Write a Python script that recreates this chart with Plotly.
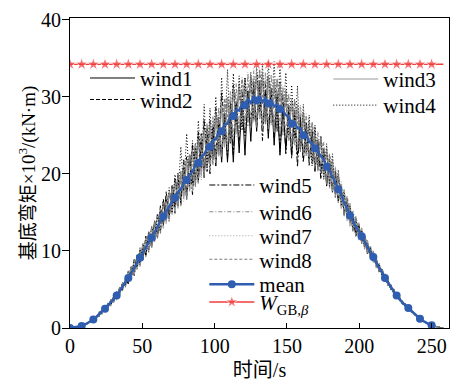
import plotly.graph_objects as go

# sampling interval of the records (s)
dt = 250 / 124
n_pts = 129
time = [round(i * dt, 3) for i in range(n_pts)]

wind1 = [0.0, 0.05, 0.15, 0.15, 0.35, 0.5, 0.55, 0.95, 1.0, 1.55,
         1.6, 2.3, 2.2, 3.2, 3.1, 4.15, 3.9, 5.25, 4.95, 6.3,
         5.9, 7.95, 7.3, 9.45, 8.4, 10.7, 9.4, 12.25, 10.9, 13.75,
         11.9, 15.35, 13.5, 17.0, 14.2, 18.4, 15.6, 19.8, 16.2, 20.8,
         17.2, 22.4, 18.8, 23.9, 18.9, 24.2, 19.5, 25.8, 21.5, 25.8,
         21.0, 26.4, 21.5, 27.9, 21.5, 27.9, 21.5, 29.3, 22.7, 29.6,
         22.4, 30.7, 24.2, 31.5, 25.5, 32.1, 25.8, 30.8, 24.6, 31.1,
         23.7, 30.0, 22.4, 28.7, 23.1, 28.4, 22.5, 28.2, 22.4, 26.9,
         22.0, 26.6, 21.6, 25.5, 20.3, 24.1, 20.3, 23.3, 18.4, 21.4,
         17.6, 20.1, 16.5, 18.3, 14.7, 16.7, 13.6, 14.7, 11.9, 13.5,
         11.1, 11.9, 9.6, 10.5, 8.6, 9.0, 7.3, 7.6, 6.0, 6.2,
         5.0, 5.05, 3.9, 3.95, 3.1, 3.15, 2.45, 2.35, 1.75, 1.6,
         1.1, 1.05, 0.65, 0.55, 0.3, 0.27, 0.12, 0.05, 0.0]

wind2 = [0.0, 0.1, 0.05, 0.3, 0.25, 0.5, 0.65, 0.75, 1.25, 1.3,
         2.1, 1.9, 2.9, 2.6, 3.6, 3.35, 4.7, 4.45, 5.95, 5.4,
         7.4, 6.55, 9.0, 7.65, 10.1, 8.9, 11.9, 10.05, 13.1, 11.25,
         14.9, 12.65, 16.7, 13.7, 17.5, 15.4, 19.4, 15.8, 20.0, 17.3,
         22.2, 17.9, 23.8, 18.6, 25.4, 20.2, 27.0, 20.3, 27.0, 21.8,
         28.5, 22.4, 30.5, 23.9, 30.0, 23.9, 31.5, 26.3, 31.2, 26.1,
         32.4, 27.2, 32.2, 27.0, 33.0, 28.1, 32.3, 27.3, 32.6, 26.6,
         31.7, 25.5, 31.9, 25.7, 30.1, 24.4, 29.5, 24.7, 28.4, 23.4,
         27.5, 23.1, 26.1, 21.5, 25.3, 21.4, 24.8, 19.8, 22.7, 18.9,
         21.1, 17.4, 19.4, 16.1, 17.4, 14.5, 15.6, 12.9, 14.0, 11.8,
         12.6, 10.5, 11.1, 9.3, 9.7, 8.0, 8.2, 6.8, 6.9, 5.6,
         5.6, 4.45, 4.45, 3.55, 3.5, 2.75, 2.75, 2.05, 1.95, 1.4,
         1.3, 0.85, 0.75, 0.45, 0.4, 0.19, 0.14, 0.05, 0.0]

wind3 = [0.0, 0.08, 0.15, 0.15, 0.38, 0.35, 0.7, 0.75, 1.22, 1.3,
         2.05, 1.85, 2.85, 2.6, 3.7, 3.4, 4.65, 4.35, 5.85, 5.45,
         7.3, 6.45, 8.8, 7.55, 10.3, 8.8, 11.7, 9.95, 13.1, 11.25,
         14.7, 12.45, 16.3, 13.7, 17.7, 14.7, 19.1, 15.8, 20.4, 16.8,
         21.8, 17.7, 23.1, 18.7, 24.4, 19.7, 25.7, 20.7, 26.8, 21.5,
         27.9, 22.6, 29.0, 23.4, 29.9, 24.5, 31.1, 25.3, 31.7, 26.0,
         32.3, 26.7, 32.7, 26.8, 33.1, 27.1, 33.1, 26.5, 32.7, 26.5,
         32.2, 25.8, 31.8, 25.2, 30.9, 24.3, 29.7, 23.7, 29.0, 23.0,
         28.0, 22.3, 27.0, 21.3, 26.1, 20.3, 24.9, 19.3, 23.3, 18.1,
         21.8, 16.9, 20.0, 15.5, 18.0, 13.9, 16.2, 12.5, 14.5, 11.4,
         13.0, 10.2, 11.4, 9.1, 10.0, 7.8, 8.4, 6.7, 7.0, 5.5,
         5.65, 4.45, 4.5, 3.5, 3.5, 2.75, 2.75, 2.08, 1.95, 1.42,
         1.28, 0.88, 0.75, 0.46, 0.38, 0.2, 0.13, 0.05, 0.0]

wind4 = [0.0, 0.0, 0.15, 0.15, 0.4, 0.3, 0.7, 0.8, 1.2, 1.25,
         2.0, 1.8, 2.8, 2.7, 3.7, 3.45, 4.5, 4.35, 5.85, 5.6,
         7.2, 6.35, 8.8, 7.85, 10.4, 9.0, 11.4, 9.85, 13.2, 11.55,
         14.6, 12.35, 16.5, 14.2, 18.2, 14.9, 19.9, 16.6, 23.5, 17.8,
         25.2, 18.4, 24.3, 19.1, 26.9, 20.7, 29.0, 20.8, 28.5, 22.3,
         30.0, 22.9, 32.5, 24.4, 33.5, 24.4, 33.0, 26.3, 32.7, 25.6,
         32.4, 27.2, 33.2, 27.0, 34.0, 28.1, 34.3, 26.8, 34.6, 27.6,
         34.7, 26.0, 34.4, 26.2, 33.1, 24.9, 31.5, 24.7, 31.4, 22.9,
         29.0, 22.6, 27.6, 21.0, 26.3, 20.9, 24.8, 19.3, 23.9, 18.4,
         22.6, 17.4, 20.5, 15.8, 17.7, 14.3, 15.8, 12.9, 14.1, 11.8,
         12.7, 10.6, 11.1, 9.4, 9.8, 8.0, 8.3, 6.8, 6.9, 5.6,
         5.6, 4.45, 4.5, 3.55, 3.5, 2.75, 2.75, 2.1, 2.0, 1.4,
         1.3, 0.85, 0.8, 0.45, 0.4, 0.2, 0.15, 0.05, 0.0]

wind5 = [0.0, 0.1, 0.05, 0.25, 0.2, 0.45, 0.5, 0.95, 1.0, 1.5,
         1.5, 2.3, 2.3, 3.2, 2.9, 4.05, 3.8, 5.05, 4.85, 6.4,
         5.7, 7.85, 6.8, 9.25, 8.2, 11.0, 9.4, 12.55, 10.5, 13.85,
         11.6, 15.85, 13.3, 17.7, 14.2, 18.6, 14.9, 20.1, 16.0, 21.8,
         16.7, 22.4, 17.3, 23.1, 19.4, 25.2, 20.0, 25.3, 20.0, 26.8,
         22.5, 27.4, 22.5, 27.9, 22.0, 29.4, 22.5, 29.3, 24.2, 30.6,
         24.9, 30.7, 26.2, 32.0, 26.0, 31.6, 24.3, 31.8, 25.6, 30.6,
         24.7, 30.5, 22.9, 30.2, 22.6, 28.9, 22.0, 27.7, 20.9, 27.4,
         21.5, 26.1, 21.1, 25.5, 20.8, 24.4, 19.3, 22.8, 18.9, 21.9,
         18.1, 20.4, 16.5, 18.5, 15.0, 16.5, 13.6, 14.8, 12.1, 13.4,
         11.2, 12.0, 9.9, 10.4, 8.6, 9.0, 7.3, 7.6, 6.2, 6.3,
         5.0, 5.05, 4.0, 4.0, 3.1, 3.1, 2.45, 2.35, 1.75, 1.6,
         1.1, 1.0, 0.65, 0.55, 0.3, 0.25, 0.1, 0.05, 0.0]

wind6 = [0.0, 0.02, 0.06, 0.26, 0.24, 0.47, 0.52, 0.95, 1.0, 1.52,
         1.55, 2.4, 2.2, 3.25, 2.9, 4.15, 3.75, 5.25, 4.85, 6.45,
         5.8, 7.95, 6.9, 9.45, 8.0, 11.0, 9.2, 12.35, 10.4, 13.95,
         11.6, 15.55, 12.9, 17.1, 13.9, 18.4, 14.9, 19.8, 15.8, 21.2,
         16.8, 22.5, 17.7, 23.8, 18.7, 25.1, 19.6, 26.3, 20.5, 27.4,
         21.4, 28.6, 22.3, 29.7, 23.2, 30.7, 24.2, 31.7, 24.9, 32.5,
         25.7, 33.0, 25.9, 33.4, 26.1, 33.4, 26.0, 33.0, 25.8, 32.9,
         25.4, 32.2, 25.3, 31.3, 24.6, 30.4, 23.5, 29.6, 23.0, 28.7,
         22.2, 27.8, 21.5, 26.6, 20.8, 25.3, 20.0, 24.1, 18.7, 22.5,
         17.6, 20.8, 16.2, 19.0, 14.6, 17.0, 13.2, 15.2, 11.9, 13.7,
         10.9, 12.1, 9.7, 10.6, 8.5, 9.1, 7.3, 7.7, 6.1, 6.3,
         5.0, 5.05, 3.95, 4.0, 3.1, 3.15, 2.45, 2.32, 1.75, 1.58,
         1.12, 1.02, 0.65, 0.54, 0.32, 0.24, 0.11, 0.05, 0.0]

wind7 = [0.0, 0.06, 0.12, 0.2, 0.33, 0.38, 0.64, 0.82, 1.15, 1.35,
         2.0, 2.4, 2.1, 3.2, 3.5, 3.25, 4.6, 5.05, 4.75, 6.4,
         7.0, 6.15, 8.7, 9.05, 7.9, 10.8, 11.1, 9.75, 12.9, 12.95,
         11.6, 15.45, 15.3, 13.4, 17.6, 17.4, 14.8, 19.8, 19.0, 16.4,
         21.7, 21.1, 17.7, 23.8, 22.4, 19.2, 25.5, 24.8, 20.4, 27.5,
         25.5, 22.2, 28.9, 27.6, 23.1, 30.7, 28.5, 24.8, 31.6, 29.9,
         25.5, 33.2, 30.4, 26.7, 33.1, 31.0, 25.8, 33.2, 30.3, 26.2,
         32.1, 30.0, 25.1, 31.4, 28.7, 24.2, 29.7, 27.5, 22.9, 28.9,
         26.0, 22.3, 26.9, 24.8, 20.7, 25.5, 23.2, 19.4, 23.3, 21.0,
         17.5, 20.9, 18.6, 15.5, 17.9, 16.0, 13.1, 15.3, 13.5, 11.4,
         12.9, 11.6, 9.6, 10.7, 9.4, 7.8, 8.4, 7.4, 6.0, 6.3,
         5.4, 4.45, 4.5, 3.85, 3.1, 3.15, 2.65, 2.08, 1.95, 1.55,
         1.15, 1.0, 0.72, 0.47, 0.37, 0.21, 0.13, 0.05, 0.0]

wind8 = [0.0, 0.04, 0.08, 0.25, 0.27, 0.44, 0.58, 0.9, 1.05, 1.45,
         1.5, 2.3, 2.8, 2.5, 3.6, 4.05, 3.7, 5.15, 5.65, 5.3,
         7.3, 7.65, 6.9, 9.45, 9.7, 8.7, 11.6, 11.75, 10.4, 13.75,
         13.7, 12.25, 16.2, 16.1, 13.8, 18.4, 17.7, 15.5, 20.3, 19.8,
         16.6, 22.6, 21.5, 18.3, 24.4, 23.2, 19.5, 26.5, 24.8, 21.1,
         27.8, 26.6, 22.2, 29.8, 27.5, 24.0, 31.0, 29.5, 24.8, 32.3,
         29.9, 26.2, 32.8, 31.1, 26.0, 33.6, 30.2, 26.4, 32.7, 30.6,
         25.4, 32.4, 29.4, 25.0, 30.8, 28.4, 23.4, 29.7, 26.8, 22.9,
         27.9, 25.9, 21.4, 26.7, 24.2, 20.4, 24.8, 22.5, 18.6, 22.6,
         20.2, 16.9, 19.9, 17.8, 14.5, 17.1, 15.1, 12.5, 14.4, 13.0,
         10.9, 12.1, 10.8, 9.1, 9.9, 8.7, 7.2, 7.7, 6.7, 5.5,
         5.6, 4.85, 3.9, 4.0, 3.4, 2.75, 2.75, 2.25, 1.75, 1.6,
         1.25, 0.92, 0.68, 0.52, 0.33, 0.24, 0.11, 0.05, 0.0]

# mean record (ends at 250 s)
mean = [0.0, 0.05, 0.12, 0.18, 0.26, 0.42, 0.62, 0.85, 1.1, 1.42,
        1.78, 2.12, 2.5, 2.9, 3.32, 3.75, 4.2, 4.75, 5.35, 5.9,
        6.5, 7.15, 7.8, 8.45, 9.1, 9.8, 10.4, 11.05, 11.7, 12.45,
        13.1, 13.85, 14.5, 15.2, 15.7, 16.4, 16.9, 17.6, 18.0, 18.8,
        19.2, 19.9, 20.3, 21.1, 21.4, 22.2, 22.5, 23.3, 23.5, 24.3,
        24.5, 25.4, 25.5, 26.4, 26.5, 27.4, 27.5, 28.3, 28.2, 29.1,
        28.9, 29.7, 29.2, 30.0, 29.5, 30.1, 29.3, 29.8, 29.1, 29.6,
        28.7, 29.0, 28.4, 28.2, 27.6, 27.4, 26.5, 26.7, 25.9, 25.9,
        25.0, 25.1, 24.1, 24.0, 23.3, 22.9, 22.3, 21.8, 20.9, 20.4,
        19.6, 18.9, 18.0, 17.3, 16.2, 15.5, 14.6, 13.9, 13.1, 12.6,
        11.9, 11.2, 10.5, 9.9, 9.2, 8.5, 7.8, 7.2, 6.5, 5.9,
        5.3, 4.75, 4.2, 3.75, 3.3, 2.95, 2.6, 2.2, 1.85, 1.5,
        1.2, 0.95, 0.7, 0.5, 0.35]

W_GB = 34.2  # design value, 10^3 kN·m
W_times = time[::4]

x_ticks = [0, 50, 100, 150, 200, 250]
y_ticks = [0, 10, 20, 30, 40]

FONT = "Liberation Serif, Noto Sans CJK SC, serif"

fig = go.Figure()

wind_styles = [
    ("wind1", wind1, "#000000", "solid", "legend", 1.0),
    ("wind2", wind2, "#000000", "4px,2px", "legend2", 1.0),
    ("wind3", wind3, "#9a9a9a", "solid", "legend3", 1.1),
    ("wind4", wind4, "#000000", "1px,2px", "legend4", 1.0),
    ("wind5", wind5, "#000000", "6px,2px,2px,2px", "legend5", 1.0),
    ("wind6", wind6, "#8c8c8c", "4px,2px,1px,2px", "legend6", 1.1),
    ("wind7", wind7, "#a0a0a0", "1px,2px", "legend7", 1.1),
    ("wind8", wind8, "#7c7c7c", "3px,2px", "legend8", 1.1),
]
for name, vals, col, dash, lg, lw in wind_styles:
    fig.add_trace(go.Scatter(x=time, y=vals, mode="lines", name=name,
                             line=dict(color=col, width=lw, dash=dash),
                             legend=lg))

fig.add_trace(go.Scatter(x=time[:len(mean)], y=mean, mode="lines+markers", name="mean",
                         line=dict(color="#2f5db0", width=2.4),
                         marker=dict(color="#2f5db0", size=8, maxdisplayed=32),
                         legend="legend9"))

w_sizes = [10] * (len(W_times) - 1) + [0]
fig.add_trace(go.Scatter(x=W_times, y=[W_GB] * len(W_times), mode="lines+markers",
                         name="<i>W</i><sub>GB,<i>β</i></sub>",
                         line=dict(color="#f03c3c", width=1.5),
                         marker=dict(color="#f03c3c", symbol="star", size=w_sizes),
                         legend="legend10"))

legend_pos = {
    "legend": (0.0396, 0.8715),
    "legend2": (0.0396, 0.8021),
    "legend3": (0.6815, 0.8682),
    "legend4": (0.6815, 0.7840),
    "legend5": (0.3544, 0.5263),
    "legend6": (0.3544, 0.4402),
    "legend7": (0.3544, 0.3627),
    "legend8": (0.3544, 0.2866),
    "legend9": (0.3544, 0.2060),
    "legend10": (0.3544, 0.1489),
}
legend_layout = {}
for key, (lx, ly) in legend_pos.items():
    legend_layout[key] = dict(x=lx, y=ly, xanchor="left", yanchor="top",
                              bgcolor="rgba(0,0,0,0)", borderwidth=0,
                              itemwidth=45, tracegroupgap=0,
                              font=dict(family=FONT, size=21, color="black"))

fig.update_layout(
    width=457, height=381,
    margin=dict(l=70, r=8, t=18, b=53, autoexpand=False),
    paper_bgcolor="white", plot_bgcolor="white",
    font=dict(family=FONT, size=20, color="black"),
    showlegend=True,
    **legend_layout,
)

fig.update_xaxes(range=[0, 262], tickvals=x_ticks, ticks="inside", ticklen=5,
                 tickcolor="black", showline=True, linecolor="black", linewidth=1,
                 mirror=True, showgrid=False, zeroline=False, automargin=False,
                 tickfont=dict(family=FONT, size=20),
                 title=dict(text="时间/s", font=dict(family=FONT, size=20), standoff=6))
fig.update_yaxes(range=[0, 40.2], tickvals=y_ticks, ticks="outside", ticklen=7,
                 tickcolor="black", showline=True, linecolor="black", linewidth=1,
                 mirror=True, showgrid=False, zeroline=False, automargin=False,
                 ticklabelstandoff=-3,
                 tickfont=dict(family=FONT, size=20),
                 title=dict(text="基底弯矩×10<sup>3</sup>/(kN·m)",
                            font=dict(family=FONT, size=19), standoff=0))

fig.write_html("out.html", config={"displayModeBar": False},
               post_script="document.body.style.margin='0px';document.body.style.overflow='hidden';")
